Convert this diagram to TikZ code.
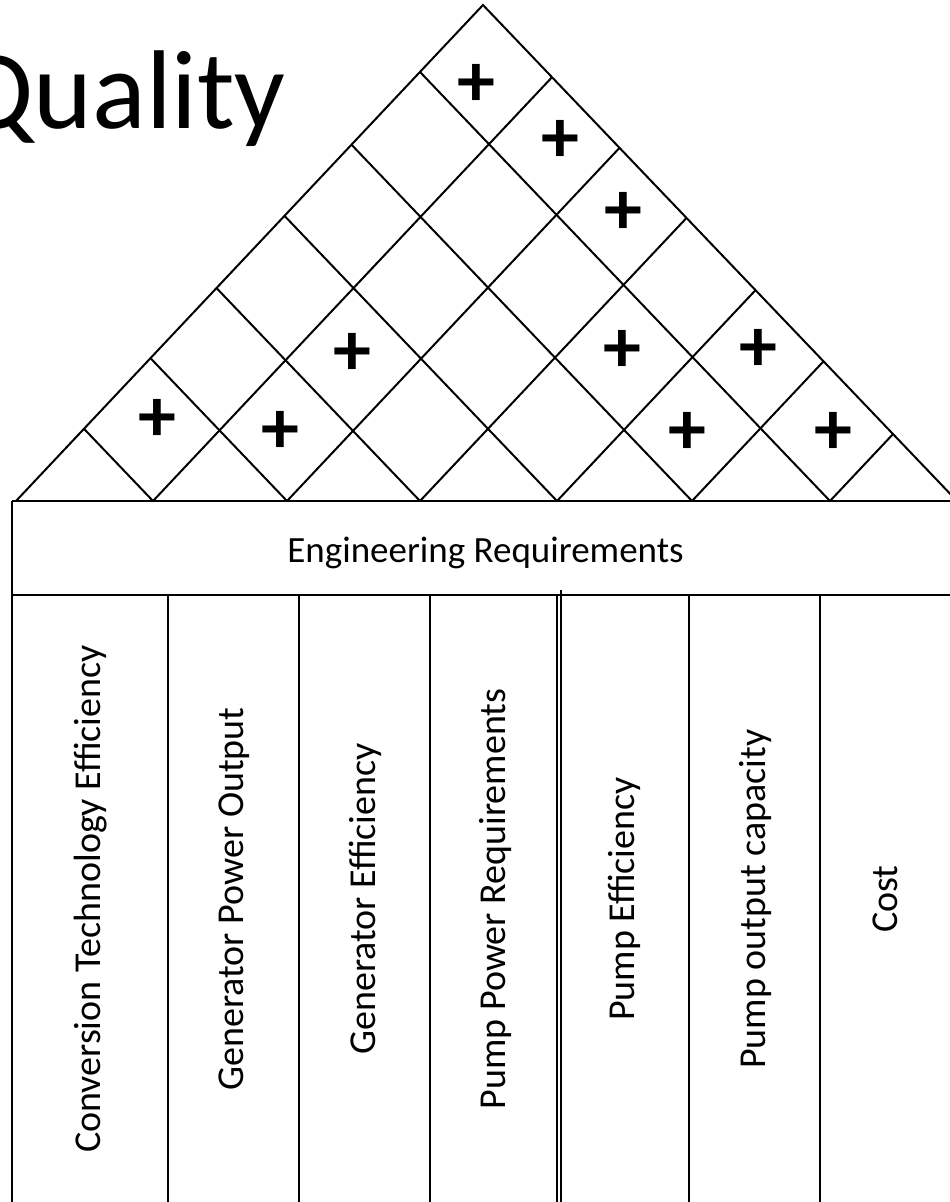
\documentclass[tikz,border=0pt]{standalone}
\usepackage{fontspec}
\setmainfont{Carlito}
\usetikzlibrary{calc}
\begin{document}
\begin{tikzpicture}[x=1pt,y=-1pt,
  gridline/.style={line width=2pt},
  tableline/.style={line width=2pt},
  thinline/.style={line width=1.1pt},
  lab/.style={font=\fontsize{38}{44}\selectfont, rotate=90, inner sep=0pt},
  plus/.style={font=\bfseries\fontsize{76}{84}\selectfont, inner sep=0pt},
  hdrtext/.style={font=\fontsize{37}{44}\selectfont, inner sep=0pt},
  titletext/.style={font=\fontsize{112}{120}\selectfont, inner sep=0pt}]
\useasboundingbox (0,0) rectangle (950,1202);
\clip (0,0) rectangle (950,1202);
\fill[white] (0,0) rectangle (950,1202);

% title
\node[titletext, anchor=base east] (title) at (286,128) {Quality};

% roof
\coordinate (A) at (483,5);
\coordinate (L) at (16,501);
\coordinate (R) at (957,501);
\draw[gridline] (L) -- (A) -- (R);
\foreach \i/\x in {1/153,2/287,3/420,4/557,5/692,6/830}{
  \coordinate (b\i) at (\x,501);
  \coordinate (bu\i) at ($(b\i)+(467,-496)$);
  \coordinate (bv\i) at ($(b\i)+(-474,-496)$);
  \pgfmathsetmacro{\fu}{(957-\x)/941}
  \pgfmathsetmacro{\fv}{(\x-16)/941}
  \draw[gridline] (b\i) -- ($(b\i)!\fu!(bu\i)$);
  \draw[gridline] (b\i) -- ($(b\i)!\fv!(bv\i)$);
}

% plus marks
\node[plus] (p17) at (476,85) {+};
\node[plus] (p27) at (560,141) {+};
\node[plus] (p37) at (623,213) {+};
\node[plus] (p24) at (352,354) {+};
\node[plus] (p46) at (622,351) {+};
\node[plus] (p57) at (758,350) {+};
\node[plus] (p12) at (157,420) {+};
\node[plus] (p23) at (280,432) {+};
\node[plus] (p56) at (687,433) {+};
\node[plus] (p67) at (833,433) {+};

% header box
\coordinate (H1) at (12,501);
\coordinate (H2) at (950,501);
\coordinate (H3) at (12,595);
\coordinate (H4) at (950,595);
\coordinate (H5) at (12,1210);
\draw[tableline] (H1) -- (H2);
\draw[tableline] (H3) -- (H4);
\draw[tableline] (H1) -- (H5);
\node[hdrtext, anchor=base] (hdr) at (485.5,562) {Engineering Requirements};

% column lines
\foreach \x in {168,299,430,689,820}{
  \draw[tableline] (\x,595) -- (\x,1210);
}
\draw[thinline] (557,595) -- (557,1210);
\draw[thinline] (561,590) -- (561,1210);

% column labels
\node[lab] (c1) at (91,899) {Conversion Technology Efficiency};
\node[lab] (c2) at (234,899) {Generator Power Output};
\node[lab] (c3) at (365,899) {Generator Efficiency};
\node[lab] (c4) at (495,899) {Pump Power Requirements};
\node[lab] (c5) at (624,899) {Pump Efficiency};
\node[lab] (c6) at (755,899) {Pump output capacity};
\node[lab] (c7) at (885,899) {Cost};
\end{tikzpicture}
\end{document}
